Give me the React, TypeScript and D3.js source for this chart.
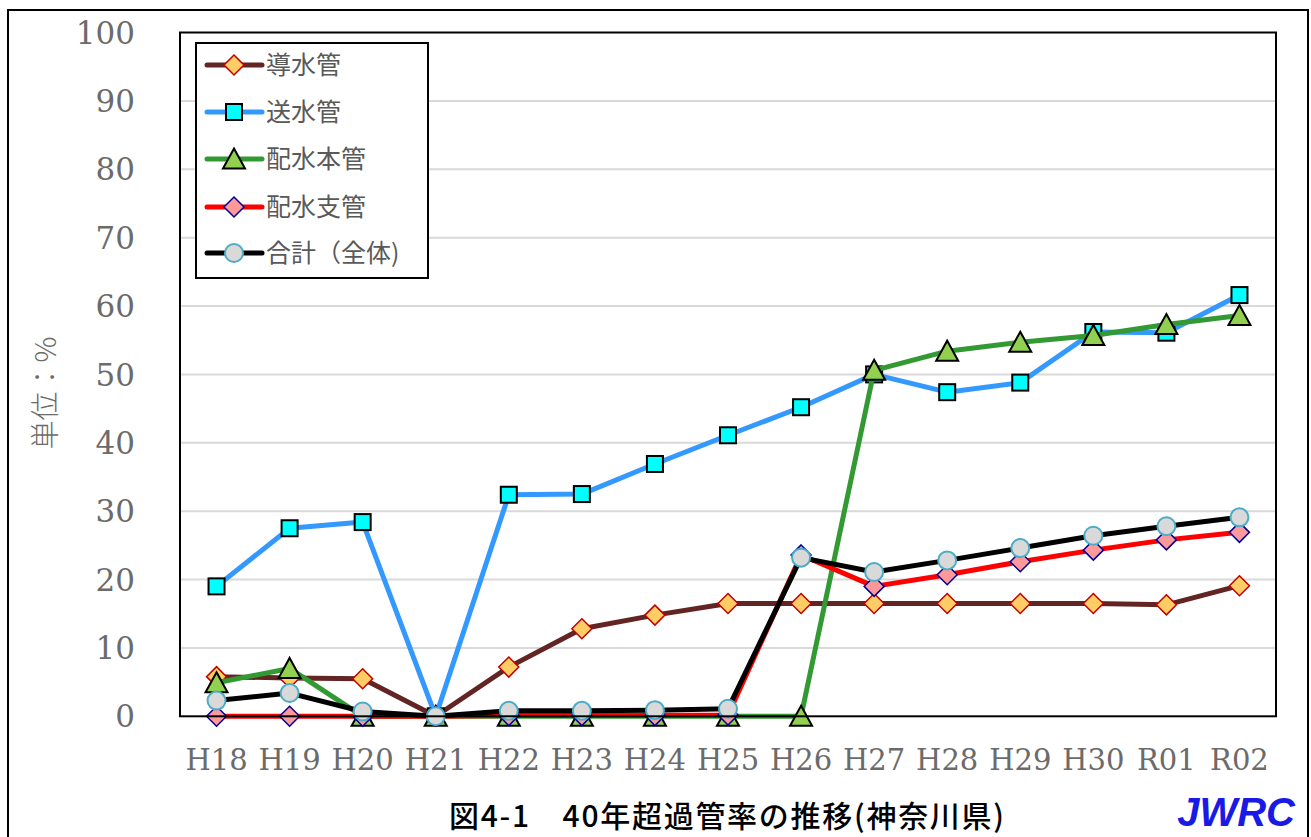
import React from 'react';
import * as d3 from 'd3';

const categories = ['H18','H19','H20','H21','H22','H23','H24','H25','H26','H27','H28','H29','H30','R01','R02'];
const dosuikan = [5.8, 5.6, 5.5, 0, 7.2, 12.8, 14.8, 16.5, 16.5, 16.5, 16.5, 16.5, 16.5, 16.3, 19.1];
const sosuikan = [19.0, 27.5, 28.4, 0, 32.4, 32.5, 36.9, 41.1, 45.2, 50.0, 47.4, 48.8, 56.2, 56.1, 61.6];
const haisuiHonkan = [4.9, 7.0, 0, 0, 0, 0, 0, 0, 0, 50.6, 53.4, 54.7, 55.7, 57.3, 58.6];
const haisuiShikan = [0, 0, 0, 0, 0.1, 0.1, 0.1, 0.2, 23.6, 19.0, 20.7, 22.6, 24.3, 25.8, 26.9];
const gokei = [2.3, 3.4, 0.7, 0, 0.8, 0.8, 0.9, 1.1, 23.2, 21.1, 22.8, 24.6, 26.4, 27.8, 29.1];
const yTicks = [0, 10, 20, 30, 40, 50, 60, 70, 80, 90, 100];

type Series = { name: string; values: number[]; line: string; marker: string; fill: string; stroke: string; sw: number };
const seriesList: Series[] = [
  { name: '導水管', values: dosuikan, line: '#632523', marker: 'diamond', fill: '#FFCC66', stroke: '#C00000', sw: 1.5 },
  { name: '送水管', values: sosuikan, line: '#3399FF', marker: 'square', fill: '#00FFFF', stroke: '#000000', sw: 2 },
  { name: '配水本管', values: haisuiHonkan, line: '#339933', marker: 'triangle', fill: '#92D050', stroke: '#000000', sw: 2 },
  { name: '配水支管', values: haisuiShikan, line: '#FF0000', marker: 'diamond', fill: '#FF9999', stroke: '#000099', sw: 1.5 },
  { name: '合計（全体)', values: gokei, line: '#000000', marker: 'circle', fill: '#D9D9D9', stroke: '#4BACC6', sw: 2 },
];

function Marker({ kind, x, y, fill, stroke, sw }: { kind: string; x: number; y: number; fill: string; stroke: string; sw: number }) {
  if (kind === 'diamond') {
    const s = 10;
    return <path d={`M${x},${y - s}L${x + s},${y}L${x},${y + s}L${x - s},${y}Z`} fill={fill} stroke={stroke} strokeWidth={sw} />;
  }
  if (kind === 'square') {
    return <rect x={x - 8} y={y - 8} width={16} height={16} fill={fill} stroke={stroke} strokeWidth={sw} />;
  }
  if (kind === 'triangle') {
    return <path d={`M${x},${y - 10.5}L${x + 11},${y + 9.5}L${x - 11},${y + 9.5}Z`} fill={fill} stroke={stroke} strokeWidth={sw} strokeLinejoin="miter" />;
  }
  return <circle cx={x} cy={y} r={9} fill={fill} stroke={stroke} strokeWidth={sw} />;
}

export default function App() {
  const W = 1311, H = 837;
  const left = 180, right = 1276, top = 32.5, bottom = 716.3;
  const x = d3.scalePoint<string>().domain(categories).range([left, right]).padding(0.5);
  const y = d3.scaleLinear().domain([0, 100]).range([bottom, top]);
  const line = d3.line<number>().x((_, i) => x(categories[i]) as number).y(d => y(d));
  const tickFont = '"DejaVu Serif", serif';
  const cjk = '"Noto Sans CJK JP", sans-serif';

  const lgX = 196, lgY = 43, lgW = 232, lgH = 235;
  const rowY = [65, 112, 159, 207, 253];

  return (
    <svg width={W} height={H} style={{ position: 'absolute', left: 0, top: 0, background: '#fff' }}>
      <rect x={0} y={0} width={W} height={H} fill="#fff" />
      <rect x={8} y={10} width={1300} height={850} fill="none" stroke="#000" strokeWidth={2} />
      {yTicks.filter(t => t > 0 && t < 100).map(t => (
        <line key={t} x1={left} x2={right} y1={y(t)} y2={y(t)} stroke="#D9D9D9" strokeWidth={2} />
      ))}
      {yTicks.map(t => (
        <text key={t} x={135} y={y(t)} dy="0.36em" textAnchor="end" fontFamily={tickFont} fontSize={31} fill="#6b6b6b">{t}</text>
      ))}
      {categories.map(c => (
        <text key={c} x={x(c)} y={770} textAnchor="middle" fontFamily={tickFont} fontSize={29} fill="#6b6b6b">{c}</text>
      ))}
      <text transform={`translate(56,393) rotate(-90)`} textAnchor="middle" fontFamily={cjk} fontSize={29} fontWeight={300} fill="#6b6b6b">単位：%</text>
      {seriesList.map(s => (
        <g key={s.name}>
          <path d={line(s.values) || ''} fill="none" stroke={s.line} strokeWidth={5} strokeLinejoin="round" />
          {s.values.map((v, i) => (
            <Marker key={i} kind={s.marker} x={x(categories[i]) as number} y={y(v)} fill={s.fill} stroke={s.stroke} sw={s.sw} />
          ))}
        </g>
      ))}
      <rect x={left} y={top} width={right - left} height={bottom - top} fill="none" stroke="#000" strokeWidth={2} />
      <rect x={lgX} y={lgY} width={lgW} height={lgH} fill="#fff" stroke="#000" strokeWidth={2} />
      {seriesList.map((s, i) => (
        <g key={s.name}>
          <line x1={207} x2={262} y1={rowY[i]} y2={rowY[i]} stroke={s.line} strokeWidth={5} strokeLinecap="round" />
          <Marker kind={s.marker} x={234} y={rowY[i]} fill={s.fill} stroke={s.stroke} sw={s.sw} />
          <text x={266} y={rowY[i]} dy="0.36em" fontFamily={cjk} fontSize={25} fill="#595959">{s.name}</text>
        </g>
      ))}
      <text x={449} y={827} fontFamily={cjk} fontSize={30} fontWeight={500} fill="#000" textLength={555} lengthAdjust="spacing">図4-1　40年超過管率の推移(神奈川県)</text>
      <text x={1295} y={826} textAnchor="end" fontFamily='"Liberation Sans", Arial, sans-serif' fontSize={40} fontWeight="bold" fontStyle="italic" fill="#1A1AE6">JWRC</text>
    </svg>
  );
}
